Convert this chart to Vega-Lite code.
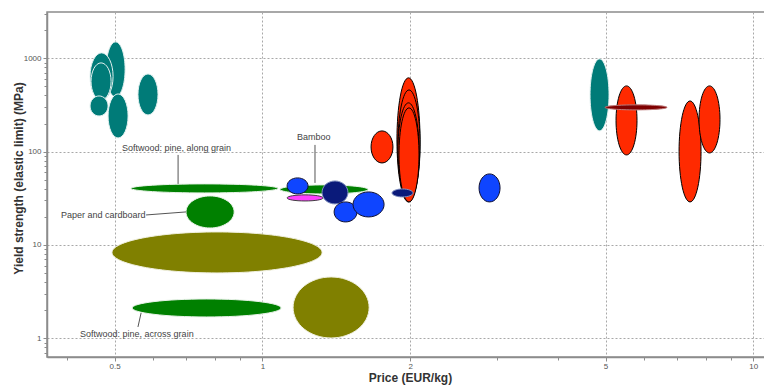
{
  "$schema": "https://vega.github.io/schema/vega-lite/v6.json",
  "width": 719,
  "height": 345,
  "autosize": "none",
  "padding": {"left": 47, "top": 12, "right": 0, "bottom": 28},
  "background": "white",
  "config": {
    "view": {"stroke": "#8c8c8c", "strokeWidth": 1.5},
    "font": "Liberation Sans"
  },
  "datasets": {
    "materials": [
      {"name": "Softwood: pine, along grain", "family": "Natural", "price": [0.540, 0.7625, 1.076, 0.7625], "strength": [40.35, 45.1, 40.35, 36.1]},
      {"name": "Bamboo", "family": "Natural", "price": [1.086, 1.3354, 1.642, 1.3354], "strength": [39.35, 44.0, 39.35, 35.2]},
      {"name": "Paper and cardboard", "family": "Natural", "price": [0.699, 0.7825, 0.876, 0.7825], "strength": [22.57, 33.5, 22.57, 15.2]},
      {"name": "Mineral A", "family": "Mineral", "price": [0.494, 0.8084, 1.323, 0.8084], "strength": [8.309, 13.78, 8.309, 5.01]},
      {"name": "Softwood: pine, across grain", "family": "Natural", "price": [0.543, 0.7700, 1.092, 0.7700], "strength": [2.1123, 2.637, 2.1123, 1.692]},
      {"name": "Mineral B", "family": "Mineral", "price": [1.155, 1.3805, 1.650, 1.3805], "strength": [2.1382, 4.54, 2.1382, 1.007]},
      {"name": "Ferrous 1", "family": "Ferrous", "price": [0.4805, 0.5024, 0.5253, 0.5024], "strength": [760.7, 1499, 760.7, 386]},
      {"name": "Ferrous 2", "family": "Ferrous", "price": [0.4457, 0.4704, 0.4965, 0.4704], "strength": [639.7, 1143, 639.7, 358]},
      {"name": "Ferrous 3", "family": "Ferrous", "price": [0.4478, 0.4693, 0.4919, 0.4693], "strength": [565.4, 893, 565.4, 358]},
      {"name": "Ferrous 4", "family": "Ferrous", "price": [0.4457, 0.4649, 0.4850, 0.4649], "strength": [308.5, 395, 308.5, 241]},
      {"name": "Ferrous 5", "family": "Ferrous", "price": [0.4850, 0.5083, 0.5327, 0.5083], "strength": [241.0, 415, 241.0, 140]},
      {"name": "Ferrous 6", "family": "Ferrous", "price": [0.558, 0.5849, 0.613, 0.5849], "strength": [409.8, 680, 409.8, 247]},
      {"name": "Ferrous 7", "family": "Ferrous", "price": [4.650, 4.862, 5.083, 4.862], "strength": [405.6, 985, 405.6, 167]},
      {"name": "Non-ferrous 1", "family": "Non-ferrous", "price": [1.665, 1.7527, 1.845, 1.7527], "strength": [112.3, 166.7, 112.3, 75.6]},
      {"name": "Non-ferrous 2", "family": "Non-ferrous", "price": [1.880, 1.9846, 2.095, 1.9846], "strength": [133.5, 617, 133.5, 28.9]},
      {"name": "Non-ferrous 3", "family": "Non-ferrous", "price": [1.889, 1.9894, 2.095, 1.9894], "strength": [118.0, 458, 118.0, 30.4]},
      {"name": "Non-ferrous 4", "family": "Non-ferrous", "price": [1.889, 1.9846, 2.085, 1.9846], "strength": [103.1, 333, 103.1, 31.9]},
      {"name": "Non-ferrous 5", "family": "Non-ferrous", "price": [1.898, 1.9893, 2.085, 1.9893], "strength": [92.2, 294, 92.2, 28.9]},
      {"name": "Non-ferrous 6", "family": "Non-ferrous", "price": [5.253, 5.518, 5.796, 5.518], "strength": [216.0, 506, 216.0, 92.2]},
      {"name": "Non-ferrous 7", "family": "Non-ferrous", "price": [7.060, 7.433, 7.826, 7.433], "strength": [100.4, 349, 100.4, 28.9]},
      {"name": "Non-ferrous 8", "family": "Non-ferrous", "price": [7.753, 8.144, 8.554, 8.144], "strength": [221.3, 506, 221.3, 96.8]},
      {"name": "Polymer 1", "family": "Polymer", "price": [1.123, 1.1796, 1.239, 1.1796], "strength": [42.91, 52.3, 42.91, 35.2]},
      {"name": "Soft polymer", "family": "Soft polymer", "price": [1.123, 1.2217, 1.329, 1.2217], "strength": [31.91, 34.4, 31.91, 29.6]},
      {"name": "Dense polymer 1", "family": "Dense polymer", "price": [1.323, 1.4059, 1.494, 1.4059], "strength": [36.52, 48.5, 36.52, 27.5]},
      {"name": "Polymer 2", "family": "Polymer", "price": [1.400, 1.4774, 1.559, 1.4774], "strength": [22.58, 28.9, 22.58, 17.64]},
      {"name": "Polymer 3", "family": "Polymer", "price": [1.530, 1.6456, 1.770, 1.6456], "strength": [27.17, 37.0, 27.17, 19.95]},
      {"name": "Polymer 4", "family": "Polymer", "price": [2.763, 2.9025, 3.049, 2.9025], "strength": [40.84, 57.7, 40.84, 28.9]},
      {"name": "Dense polymer 2", "family": "Dense polymer", "price": [1.837, 1.9297, 2.027, 1.9297], "strength": [36.08, 39.8, 36.08, 32.7]},
      {"name": "Other metal", "family": "Other metal", "price": [4.989, 5.770, 6.672, 5.770], "strength": [297.9, 317, 297.9, 280]}
    ],
    "labels": [
      {"label": "Softwood: pine, along grain", "price": 0.5178, "strength": 109.6},
      {"label": "Paper and cardboard", "price": 0.389, "strength": 20.96},
      {"label": "Softwood: pine, across grain", "price": 0.4253, "strength": 1.112},
      {"label": "Bamboo", "price": 1.177, "strength": 143.8}
    ],
    "leaders": [
      {"price": 0.6735, "price2": 0.6735, "strength": 92.2, "strength2": 45.1},
      {"price": 0.5796, "price2": 0.699, "strength": 20.96, "strength2": 22.58},
      {"price": 0.5662, "price2": 0.558, "strength": 1.867, "strength2": 1.322},
      {"price": 1.280, "price2": 1.280, "strength": 118, "strength2": 46.2}
    ]
  },
  "layer": [
    {
      "data": {"name": "materials"},
      "transform": [
        {"flatten": ["price", "strength"]},
        {"window": [{"op": "row_number", "as": "vertex"}], "groupby": ["name"]}
      ],
      "mark": {"type": "line", "interpolate": "cardinal-closed", "tension": -0.657, "strokeWidth": 1},
      "encoding": {
        "x": {
          "field": "price",
          "type": "quantitative",
          "title": "Price (EUR/kg)",
          "scale": {"type": "log", "domain": [0.3642, 10.614], "nice": false},
          "axis": {
            "values": [0.4, 0.5, 0.6, 0.7, 0.8, 0.9, 1, 2, 3, 4, 5, 6, 7, 8, 9, 10],
            "labelExpr": "indexof([0.5, 1, 2, 5, 10], datum.value) >= 0 ? '' + datum.value : ''",
            "grid": true,
            "gridColor": "#a8a8a8",
            "gridDash": [2, 2],
            "gridWidth": 1,
            "gridOpacity": {"condition": {"test": "indexof([0.5, 1, 2, 5, 10], datum.value) >= 0", "value": 1}, "value": 0},
            "domainColor": "#8c8c8c",
            "domainWidth": 1.5,
            "tickColor": "#8c8c8c",
            "tickSize": {"condition": {"test": "indexof([0.5, 1, 2, 5, 10], datum.value) >= 0", "value": 4}, "value": 3},
            "labelFontSize": 8,
            "labelColor": "#555555",
            "labelPadding": 1,
            "labelFlush": false,
            "labelOverlap": false,
            "titleFontSize": 12,
            "titleFontWeight": "bold",
            "titleColor": "#333333",
            "titleBaseline": "alphabetic",
            "titleX": 363,
            "titleY": 24
          }
        },
        "y": {
          "field": "strength",
          "type": "quantitative",
          "title": "Yield strength (elastic limit) (MPa)",
          "scale": {"type": "log", "domain": [0.63, 3134], "nice": false},
          "axis": {
            "values": [0.7, 0.8, 0.9, 1, 2, 3, 4, 5, 6, 7, 8, 9, 10, 20, 30, 40, 50, 60, 70, 80, 90, 100, 200, 300, 400, 500, 600, 700, 800, 900, 1000, 2000, 3000],
            "labelExpr": "indexof([1, 10, 100, 1000], datum.value) >= 0 ? '' + datum.value : ''",
            "grid": true,
            "gridColor": "#a8a8a8",
            "gridDash": [2, 2],
            "gridWidth": 1,
            "gridOpacity": {"condition": {"test": "indexof([1, 10, 100, 1000], datum.value) >= 0", "value": 1}, "value": 0},
            "domainColor": "#8c8c8c",
            "domainWidth": 1.5,
            "tickColor": "#8c8c8c",
            "tickSize": {"condition": {"test": "indexof([1, 10, 100, 1000], datum.value) >= 0", "value": 4}, "value": 3},
            "labelFontSize": 8,
            "labelColor": "#555555",
            "labelPadding": 2,
            "labelFlush": false,
            "labelOverlap": false,
            "titleFontSize": 12,
            "titleFontWeight": "bold",
            "titleColor": "#333333",
            "titleBaseline": "alphabetic",
            "titleX": -25,
            "titleY": 166
          }
        },
        "order": {"field": "vertex"},
        "detail": {"field": "name"},
        "fill": {
          "field": "family",
          "type": "nominal",
          "legend": null,
          "scale": {
            "domain": ["Natural", "Mineral", "Ferrous", "Non-ferrous", "Polymer", "Soft polymer", "Dense polymer", "Other metal"],
            "range": ["#008000", "#808000", "#007b78", "#ff2a00", "#0f45ff", "#ff40ff", "#0a1a7a", "#7f0000"]
          }
        },
        "stroke": {
          "field": "family",
          "type": "nominal",
          "legend": null,
          "scale": {
            "domain": ["Natural", "Mineral", "Ferrous", "Non-ferrous", "Polymer", "Soft polymer", "Dense polymer", "Other metal"],
            "range": ["#e8f2e8", "#f0f0e0", "#e0f0ef", "#000000", "#101030", "#404040", "#8090c0", "#c08080"]
          }
        }
      }
    },
    {
      "data": {"name": "leaders"},
      "mark": {"type": "rule", "color": "#555555", "strokeWidth": 1},
      "encoding": {
        "x": {"field": "price", "type": "quantitative", "title": "Price (EUR/kg)"},
        "x2": {"field": "price2"},
        "y": {"field": "strength", "type": "quantitative", "title": "Yield strength (elastic limit) (MPa)"},
        "y2": {"field": "strength2"}
      }
    },
    {
      "data": {"name": "labels"},
      "mark": {"type": "text", "align": "left", "baseline": "middle", "fontSize": 9, "color": "#444444", "font": "Liberation Sans"},
      "encoding": {
        "x": {"field": "price", "type": "quantitative", "title": "Price (EUR/kg)"},
        "y": {"field": "strength", "type": "quantitative", "title": "Yield strength (elastic limit) (MPa)"},
        "text": {"field": "label"}
      }
    }
  ]
}
